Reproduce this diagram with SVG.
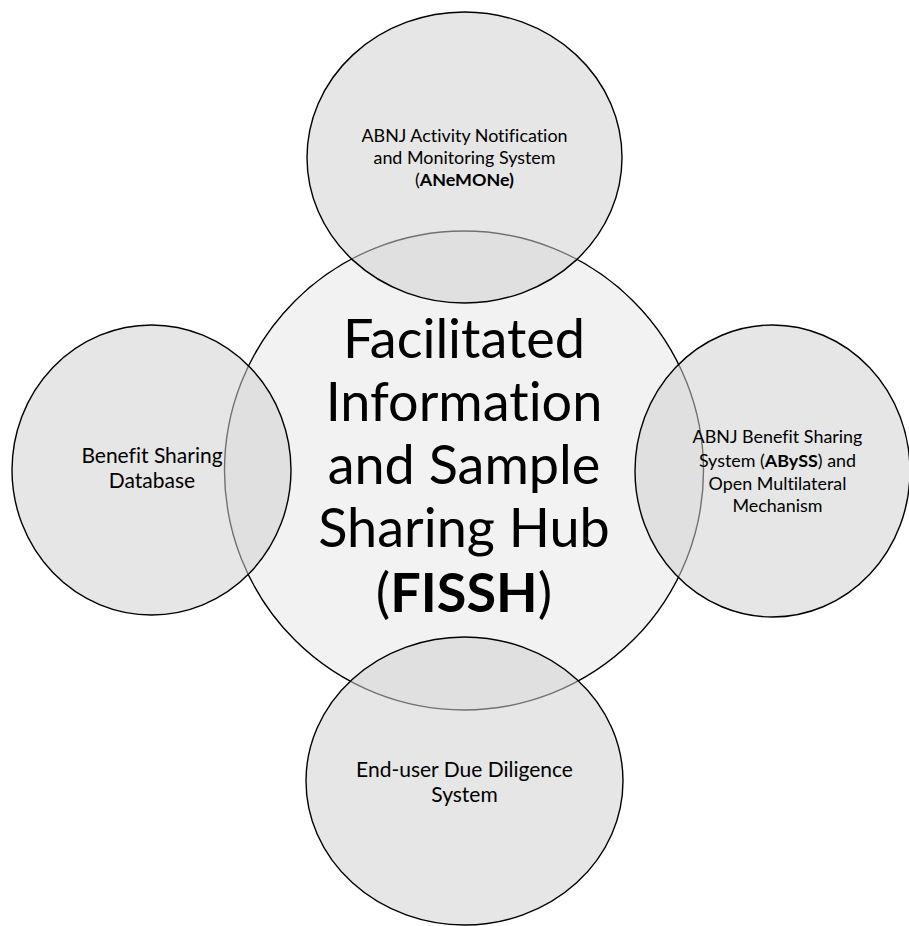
<svg xmlns="http://www.w3.org/2000/svg" width="909" height="926" viewBox="0 0 909 926">
<style>
.hub{fill:#f2f2f2;stroke:#000;stroke-width:1.4}
.sat{fill:#d0d0d0;fill-opacity:0.54;stroke:#000;stroke-width:1.4}
text{font-family:Lato,"Open Sans","Liberation Sans",sans-serif;fill:#000;text-anchor:middle;font-variant-ligatures:none;font-feature-settings:"liga" 0,"clig" 0}
.s{font-size:17.9px}
.m{font-size:21px}
.big{font-size:54px}
.b{font-weight:bold}
</style>
<rect width="909" height="926" fill="#fff"/>
<g id="hub">
<circle class="hub" cx="464" cy="470.5" r="239.5"/>
</g>
<g id="anemone">
<ellipse class="sat" cx="464.5" cy="157.5" rx="157.5" ry="145.5"/>
<text class="s" x="464.5" y="142">ABNJ Activity Notification</text>
<text class="s" x="464.5" y="164">and Monitoring System</text>
<text class="s" x="464.5" y="186">(<tspan class="b">ANeMONe)</tspan></text>
</g>
<g id="bsdb">
<ellipse class="sat" cx="151.5" cy="470" rx="139.5" ry="145"/>
<text class="m" x="152" y="463">Benefit Sharing</text>
<text class="m" x="152" y="488">Database</text>
</g>
<g id="abyss">
<ellipse class="sat" cx="772.5" cy="471" rx="137.5" ry="146"/>
<text class="s" x="777.5" y="443">ABNJ Benefit Sharing</text>
<text class="s" x="777.5" y="467">System (<tspan class="b">ABySS</tspan>) and</text>
<text class="s" x="777.5" y="490">Open Multilateral</text>
<text class="s" x="777.5" y="512">Mechanism</text>
</g>
<g id="edds">
<ellipse class="sat" cx="464.5" cy="781" rx="158.5" ry="144"/>
<text class="m" x="464.5" y="777">End-user Due Diligence</text>
<text class="m" x="464.5" y="802">System</text>
</g>
<g id="hub-label">
<text class="big" x="464" y="358">Facilitated</text>
<text class="big" x="464" y="421">Information</text>
<text class="big" x="464" y="484">and Sample</text>
<text class="big" x="464" y="547">Sharing Hub</text>
<text class="big" x="464" y="612">(<tspan class="b">FISSH</tspan>)</text>
</g>
<g id="connectors"></g>
</svg>
